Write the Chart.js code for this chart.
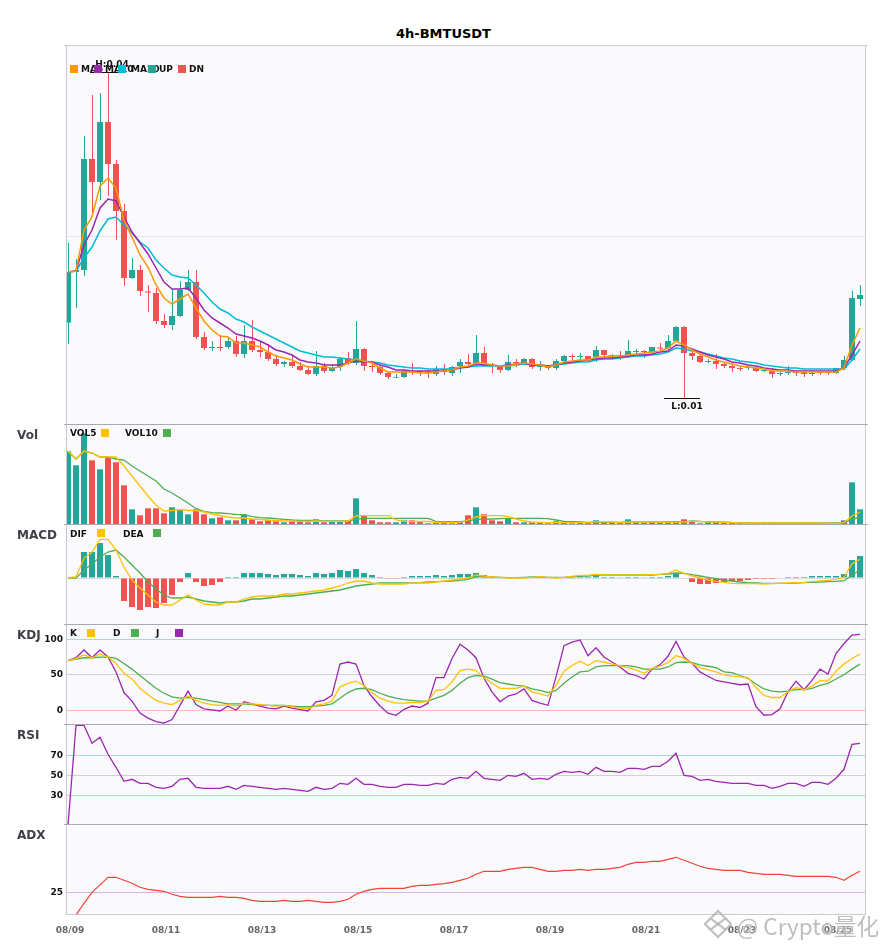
<!DOCTYPE html>
<html><head><meta charset="utf-8">
<style>
html,body{margin:0;padding:0;background:#fff;width:885px;height:950px;overflow:hidden}
canvas{position:absolute;left:0}
.t{position:absolute;font-family:'DejaVu Sans',sans-serif;font-weight:700;white-space:nowrap}
.sq{position:absolute;width:8px;height:8px}
</style>
<script src="https://cdn.jsdelivr.net/npm/chart.js@4"></script>
</head><body>
<canvas id="cMain" style="top:45px" width="885" height="379"></canvas>
<canvas id="cVol" style="top:424px" width="885" height="100"></canvas>
<canvas id="cMacd" style="top:524px" width="885" height="100"></canvas>
<canvas id="cKdj" style="top:624px" width="885" height="100"></canvas>
<canvas id="cRsi" style="top:724px" width="885" height="100"></canvas>
<canvas id="cAdx" style="top:824px" width="885" height="126"></canvas>
<div id="texts"></div>
<script>
// Prices are read as a log2 index: 0 = 0.01, 100 = 0.02, 200 = 0.04
const openIdx=[48.0,78.4,79.6,146.2,132.4,168.4,143.2,115.0,74.8,79.6,66.7,65.8,49.0,46.6,52.0,67.6,72.4,39.4,32.8,33.4,33.4,37.0,29.2,37.0,31.6,30.4,26.2,23.2,24.4,22.0,19.6,17.2,22.0,19.0,21.4,26.8,23.8,32.2,22.0,21.4,17.8,15.0,15.4,19.0,19.0,18.4,17.2,20.2,17.8,22.0,24.4,23.8,29.8,22.6,21.4,19.6,24.4,23.8,26.2,21.4,22.0,20.8,25.0,28.0,27.4,28.0,27.4,31.6,28.0,28.6,28.0,30.4,31.0,30.4,33.1,32.8,37.0,45.4,29.8,28.0,24.4,25.0,23.2,22.0,20.8,20.8,20.8,19.0,19.0,17.2,17.8,18.4,18.4,17.2,18.4,18.4,17.8,20.8,25.6,62.2];
const closeIdx=[78.4,79.6,146.2,132.4,168.4,143.2,115.0,74.8,79.6,67.0,66.1,49.0,46.6,52.0,67.6,72.4,39.4,32.8,33.4,32.8,37.0,29.2,37.0,31.6,30.4,26.2,23.2,24.4,22.0,19.6,17.2,22.0,19.0,20.8,26.2,23.8,32.2,22.0,21.4,17.8,15.4,15.4,19.0,18.4,18.4,17.8,20.2,18.4,21.4,24.4,23.2,29.8,23.8,22.0,19.6,24.4,23.8,26.2,21.4,22.6,20.8,25.0,28.0,27.4,28.0,26.2,31.6,28.6,28.6,28.0,31.0,31.0,30.4,33.4,32.5,37.0,45.4,29.8,28.0,24.4,25.0,23.2,22.0,20.8,20.2,21.4,19.0,19.6,17.2,17.8,18.4,17.8,17.2,17.8,17.8,17.8,20.8,25.6,62.8,64.6];
const highIdx=[95.8,86.2,160.0,184.6,185.8,198.4,145.6,119.2,86.8,82.6,70.6,68.8,53.2,68.2,73.0,79.6,79.6,42.4,37.0,40.6,38.8,40.0,46.6,49.6,37.0,35.2,28.6,25.0,28.0,24.4,22.0,31.0,23.8,22.6,27.4,30.4,49.0,32.8,24.4,22.6,18.4,17.2,20.2,23.8,19.6,19.6,22.0,23.2,22.0,26.2,29.2,40.6,33.4,23.8,22.6,28.6,26.2,26.8,26.8,25.0,22.6,26.2,28.6,29.2,29.8,28.0,34.0,31.6,29.2,31.0,37.6,32.2,31.6,33.4,35.8,40.6,46.0,46.0,30.4,28.6,26.2,29.2,24.4,23.8,22.0,22.6,21.4,20.8,20.8,19.0,22.0,19.6,19.6,19.6,19.6,19.6,20.8,28.0,67.0,70.6];
const lowIdx=[35.2,56.8,76.0,113.8,121.6,124.0,97.6,70.0,74.2,64.0,54.4,47.2,44.8,43.6,51.4,67.0,38.2,31.6,31.0,31.0,32.2,27.4,26.8,30.4,27.4,25.0,22.0,21.4,20.8,19.0,16.6,16.0,17.8,18.4,19.0,22.6,22.6,19.0,18.4,16.6,14.2,14.8,14.8,16.6,16.0,14.8,16.0,16.6,16.0,17.8,21.4,21.4,22.6,17.8,17.8,19.0,21.4,22.6,20.2,19.0,19.6,19.6,24.4,25.0,25.6,25.0,24.4,25.6,26.2,25.6,26.8,29.2,26.8,29.8,30.4,31.6,36.4,2.8,25.6,23.8,23.8,20.2,20.8,18.4,19.0,19.6,18.4,18.4,14.8,16.0,16.6,16.0,15.4,16.0,16.6,16.6,17.2,19.6,25.0,58.0];
const ma5Idx=[78.4,79.0,103.6,111.4,130.0,134.8,128.8,109.6,99.4,88.6,81.4,70.6,62.8,59.2,62.2,65.2,56.8,49.0,43.6,40.0,39.4,35.8,35.8,34.6,33.4,30.4,28.0,26.8,25.6,23.2,21.4,21.4,21.4,20.8,21.4,23.8,26.2,25.0,23.8,20.8,18.4,18.4,18.4,18.4,17.8,17.8,18.4,19.0,19.6,21.4,22.0,23.8,23.8,22.6,22.0,22.0,23.2,23.8,23.2,22.6,21.4,22.6,24.4,25.0,25.6,25.6,27.4,27.4,28.0,28.0,28.6,29.2,29.8,30.4,31.0,32.8,37.0,34.6,31.6,29.2,27.4,25.6,24.4,23.2,22.0,21.4,20.8,20.2,19.0,19.0,19.0,18.4,18.4,18.4,18.4,18.4,18.4,20.8,34.6,44.8];
const ma10Idx=[78.4,79.0,94.6,103.6,116.8,122.2,121.0,111.4,102.4,95.8,89.2,80.8,72.4,68.2,68.2,68.8,62.8,55.6,50.8,47.8,44.8,41.2,40.0,38.8,37.0,34.6,31.6,30.4,28.6,25.6,24.4,23.8,22.6,22.6,22.6,23.8,25.0,24.4,24.4,22.6,21.4,19.6,19.6,19.0,19.0,19.0,19.0,19.0,19.6,20.8,21.4,23.2,22.6,22.6,22.0,22.6,23.2,23.8,22.6,22.6,22.0,22.6,23.8,24.4,25.0,25.6,26.2,26.8,26.8,27.4,28.0,28.6,28.6,29.2,30.4,31.0,34.6,34.0,32.2,30.4,28.6,27.4,26.2,24.4,23.8,22.6,22.0,20.8,20.2,19.6,19.6,19.0,19.0,19.0,19.0,19.0,19.0,20.8,28.6,37.0];
const ma20Idx=[78.4,79.0,86.8,93.4,103.0,110.2,111.4,106.6,101.8,96.4,92.8,85.6,80.8,76.6,75.4,74.8,70.6,65.8,60.4,56.2,53.8,50.2,48.4,45.4,43.0,40.6,38.2,35.8,33.4,31.0,29.8,28.6,27.4,27.4,26.8,26.2,25.6,25.0,24.4,23.8,22.6,22.0,21.4,20.8,20.8,20.2,20.2,20.2,20.2,21.4,21.4,22.0,22.0,22.0,22.0,22.0,22.6,23.2,22.6,22.6,22.0,22.6,23.2,23.8,24.4,24.4,25.6,26.2,26.2,26.8,27.4,28.0,28.0,28.6,29.2,30.4,32.8,32.2,31.0,30.4,29.2,28.0,26.8,26.2,25.0,24.4,23.8,22.6,22.0,21.4,20.8,20.8,20.2,20.2,20.2,20.2,20.2,20.2,25.6,32.2];
const volume=[72.7,58.7,90.7,63.7,54.7,67,61.7,38.7,14.7,8.7,15.7,15.7,10.7,16.7,14,9.7,14.7,9.7,5.7,6.7,3.7,3.7,9.7,4.7,2.7,3.7,2.7,1.7,2.7,2.7,1.7,4.7,1.7,2.7,2.7,3.7,25.7,8,3.7,1.7,1.7,1.7,3.7,3.7,2,0.7,2,1.7,0.7,2.7,8.7,16.7,9.7,3.7,2.7,5.7,1.7,1.7,1.7,1.7,0.7,2.7,1,0.7,1,1,3.7,1.3,1,1,4.7,1.3,1,2,1,1.7,2.7,4.7,2,0.7,1.7,2.7,1,1,1,0.7,0.7,1,1,0.7,0.7,0.7,1,0.7,0.7,0.7,0.3,3.7,41.7,14.7];
const vol5=[72.7,65,73,71,67,67,67,58,48,38,28,19,13,13.5,14.5,13.5,13.5,12,10,8.5,7,6,6,5,4.5,4,3.5,3,3,2.7,2.7,3,2.7,2.7,2.7,3,8,8.3,8.3,8.3,8.3,4,2.7,2.5,2.5,2.5,1.5,1.5,1.5,1.7,4,7,8.3,8.3,8.3,7.5,5,3,2,1.7,1.3,1.3,1.3,1.3,1.3,1.3,2.2,2.2,2,1.3,2,2,2,2.2,2,1.7,1.7,2,2.7,2.7,2.2,2,1.7,1.3,1,1,1,1,1,1,1,1,1,1,0.9,0.9,0.7,1.3,8,12];
const vol10=[72.7,65,73,71,67,67,65,64,58,53,48,43,35,31,26,21,15.3,12.7,11.3,11,10.3,9.7,9.3,7.3,6.3,6,5.3,4.7,4,3.5,3.5,3.5,3,3,3,3,4.7,5.7,5.7,5.7,5.7,5.7,5.7,5.7,5.7,5.7,2.7,2.3,2.3,2.3,3,4.7,4.7,5,5.3,5.7,5.7,5.7,5.7,5.7,5.3,4,2.7,2.3,2,1.7,1.7,1.7,1.7,1.7,2,2,2,2,2,2,2,2,3,2.5,2.3,2,1.8,1.5,1.4,1.3,1.2,1.1,1,1,1,1,1,1,1,1,1,1,5,6.3];
const macdHist=[0,0,26,26,35,23,2,-23,-29,-32,-29,-30,-25,-17,-4,5,-4,-8,-7,-4,1,1,5,5,5,4,3,4,4,3,2,5,4,5,8,7,9,5,3,1,-0.7,-0.7,1,2,2,2,3,2,3,4,4,5,3,1,0.5,0.5,0.3,0.3,-0.5,-0.5,-0.5,-0.5,0.5,1,1,1,3,1,1,0.3,1,1,0.3,1,1,2,5,0,-4,-6,-6,-5,-4,-3,-3,-2,-1,-1,-1,0,1,1,1,2,2,2,2,4,18,22];
const dif=[0,1,19.7,26,38.7,38.7,28,11,-2,-10,-17,-24,-27,-27,-22,-17,-22,-26,-27,-27,-24,-24,-21,-19,-18,-18,-18,-16,-16,-15,-14,-13,-12,-10,-8,-5,-3,-3,-5,-6,-6,-6,-6,-5,-5,-5,-4,-3,-2,-1,0,3,2,1,0.7,0,0,0,0.7,1.3,0.7,0,0.7,1.7,2.7,2.7,3.7,3,3,3,3,3,3,3.3,3.7,4.7,8,4.7,2,0,-2,-3.3,-4.3,-5.3,-5.7,-5.7,-5.7,-6,-5.7,-5.3,-5,-4.7,-4.3,-3.7,-3,-2.3,-1.3,0.7,14,18.7];
const dea=[0,0,8,14,21,26,28,21,13,5,-4,-11,-17,-20,-20,-19,-21,-23,-24,-25,-24,-24,-23,-21,-21,-20,-19,-18,-18,-17,-16,-15,-14,-13,-12,-10,-8,-7,-6,-5,-5,-5,-5,-5,-4.7,-4,-3.7,-3.3,-3,-2.3,-1.3,1.3,1.3,1,0.7,0.3,0.3,0.7,1,1,0.7,0.7,0.7,1.3,1.7,2,3,3,3,3,3,3,3,3,3.7,4,5,4.7,3.3,2,0.7,-0.7,-2,-3,-4,-4.7,-5,-5.3,-5.3,-5.3,-5.3,-5,-4.7,-4.3,-4,-3.7,-3.3,-2.7,2.7,8];
const kLine=[70,73,78,74,79,75,66,52,44,31,22,14,10,8,14,20,14,10,8,7,8,6,10,9,8,7,6,7,5,3,2,7,9,13,33,38,41,35,25,17,13,10,10,11,11,13,28,29,40,56,58,56,46,38,31,31,31,34,26,23,20,35,55,63,69,63,70,68,65,63,60,57,52,59,62,67,77,73,66,60,57,54,50,48,47,46,32,21,18,18,26,32,29,34,42,41,55,65,73,79];
const dLine=[70,72,74,74,75,75,73,66,58,49,40,31,24,19,17,18,17,15,13,11,9,9,9,8,7.5,7,7,7,6,5,5,6,7,9,17,25,30,31,29,24,20,17,15,14,13,13,17,21,28,38,46,49,48,44,39,37,35,34,30,28,25,28,38,47,54,55,61,63,63,63,63,61,58,58,58,61,67,68,67,64,62,60,54,53,49,45,37,30,27,26,27,29,29,31,35,38,44,50,58,65];
const jLine=[70,74,85,74,85,75,54,25,13,-4,-11,-16,-18,-13,7,27,8,2,0.5,-1,6,0,12,9,6,3,2,6,3,1,-1,12,14,21,65,68,65,35,19,6,-4,-7,1.4,6,4,10,46,46,73,93,85,74,45,26,12,20,23,30,14,10,7,47,91,96,99,77,88,75,68,61,52,49,44,58,64,76,97,75,66,54,48,42,40,38,36,37,5,-7,-6,2,26,41,29,42,58,51,80,94,106,107];
const rsi=[0,100,100,82,88,71,58,44,46,42,42,38,37,39,46,47,38,37,37,37,39,36,40,39,38,37,36,37,36,35,34,38,36,37,42,41,47,41,41,39,38,38,41,41,40,40,42,41,46,48,47,54,47,46,45,50,49,52,46,47,46,51,54,53,54,51,58,54,54,53,57,57,56,59,59,64,72,50,49,45,46,44,43,42,42,42,40,40,37,39,42,42,39,43,43,41,47,56,81,82];
const adx=[13.7,13.7,19.5,25,28.7,32.5,32.5,31,29.5,27.5,26.5,26,25.5,24,23,22.5,22.5,22.5,22.5,23,22.5,22.5,22,21,20.5,20.5,20.5,21,20.5,20.5,21,20.5,20,20,20.5,21.5,24,25.5,26.5,27,27,27,27,28,28.5,28.5,29,29.3,30,31,32,34,35.5,35.5,35.5,36.5,37,37.5,37.5,36.5,35.5,35.5,36,36,36.5,36,36.5,36.5,37,37.5,39,40,40,40.5,40.5,41.5,42.5,41,39.5,38,37,36.5,36,36,36,35,34.5,34,34,34,33.5,33,33,33,33,33,32.5,31,33.5,35.5];
const dateLabels=['08/09','08/11','08/13','08/15','08/17','08/19','08/21','08/23','08/25'];
const dateTickIndex=[0,12,24,36,48,60,72,84,96];
const kdjTicks=[0,50,100], rsiTicks=[30,50,70], adxTicks=[25];

const UP='#26A69A',DN='#EF5350',ORANGE='#FF9800',PURPLE='#9C27B0',CYAN='#00BCD4',YEL='#FFC107',GRN='#4CAF50',RED='#F44336';
const price=v=>0.01*Math.pow(2,v/100);
const xy=arr=>arr.map((y,x)=>({x,y}));
const isUp=openIdx.map((o,i)=>closeIdx[i]>=o);
const candleColors=isUp.map(u=>u?UP:DN);

const framePlugin={id:'frame',
  beforeDraw(c){const a=c.chartArea,g=c.ctx;g.save();g.fillStyle='#FAFAFD';g.fillRect(a.left,a.top,a.width,a.height);g.restore();},
  afterDraw(c,_,o){const a=c.chartArea,g=c.ctx;g.save();g.lineWidth=1;
    g.strokeStyle='#C9C9D3';g.beginPath();
    g.moveTo(a.left+.5,a.top);g.lineTo(a.left+.5,a.bottom);g.moveTo(a.right-.5,a.top);g.lineTo(a.right-.5,a.bottom);
    if(o.bottom){g.moveTo(a.left,a.bottom-.5);g.lineTo(a.right,a.bottom-.5);}g.stroke();
    g.strokeStyle=o.top||'#A9A9B1';g.beginPath();g.moveTo(a.left,a.top+.5);g.lineTo(a.right,a.top+.5);
    g.moveTo(a.left-2,a.top+.5);g.lineTo(a.left,a.top+.5);g.moveTo(a.right,a.top+.5);g.lineTo(a.right+2,a.top+.5);g.stroke();
    g.restore();}
};
const extremePlugin={id:'extreme',afterDatasetsDraw(c){
  const y=c.scales.y,x=c.scales.x,g=c.ctx;
  let hi=0,lo=0;highIdx.forEach((v,i)=>{if(v>highIdx[hi])hi=i;});lowIdx.forEach((v,i)=>{if(v<lowIdx[lo])lo=i;});
  g.save();g.strokeStyle='#111';g.fillStyle='#111';g.lineWidth=1;g.font='bold 9px "DejaVu Sans"';g.textAlign='center';g.textBaseline='middle';
  const hx=x.getPixelForValue(hi),hy=y.getPixelForValue(price(highIdx[hi])),lx=x.getPixelForValue(lo),ly=y.getPixelForValue(price(lowIdx[lo]));
  g.beginPath();g.moveTo(hx-18,Math.round(hy)+.5);g.lineTo(hx+18,Math.round(hy)+.5);g.moveTo(lx-20,Math.round(ly)+.5);g.lineTo(lx+16,Math.round(ly)+.5);g.stroke();
  g.fillText('H:'+price(highIdx[hi]).toFixed(2),hx+4,hy-7);
  g.fillText('L:'+price(lowIdx[lo]).toFixed(2),lx+3,ly+9);
  g.restore();}};

function line(data,color,order,width){return {type:'line',data:xy(data),borderColor:color,borderWidth:width||1.3,pointRadius:0,tension:0,order:order,fill:false};}
function bars(data,colors,order,pct,axis){const d={type:'bar',data:data,backgroundColor:colors,borderWidth:0,order:order,grouped:false,barPercentage:pct,categoryPercentage:1};if(axis)d.xAxisID=axis;return d;}

function panel(id,datasets,o){
  const scales={
      x:{type:'linear',min:-0.25,max:99.75,offset:false,display:!!o.xLabels,grid:{display:false},border:{display:false},
        afterFit(s){s.height=o.xLabels?35:0;s.paddingLeft=0;s.paddingRight=0;},
        afterBuildTicks(s){s.ticks=dateTickIndex.map(value=>({value}));},
        ticks:{autoSkip:false,maxRotation:0,minRotation:0,includeBounds:false,padding:2,labelOffset:2,color:'#666',font:{family:'DejaVu Sans',size:9,weight:'bold'},
          callback(v){return dateLabels[dateTickIndex.indexOf(v)];}}},
      y:{type:o.log?'logarithmic':'linear',min:o.min,max:o.max,border:{display:false},
        afterFit(s){s.width=66;s.paddingTop=0;s.paddingBottom=0;},
        afterBuildTicks(s){s.ticks=(o.ticks||[]).map(value=>({value}));},
        grid:{drawTicks:false,lineWidth:1,color:c=>(o.gridColors||{})[c.tick&&c.tick.value]||'rgba(0,0,0,0)'},
        ticks:{display:!!o.showY,autoSkip:false,padding:3,color:'#111',font:{family:'DejaVu Sans',size:9,weight:'bold'},callback:v=>String(v)}}
  };
  if(o.wickAxis) scales.xWick={type:'linear',axis:'x',min:-0.3125,max:99.6875,offset:false,display:false};
  return new Chart(document.getElementById(id),{type:'bar',data:{datasets},plugins:[framePlugin].concat(o.plugins||[]),options:{
    responsive:false,animation:false,devicePixelRatio:1,
    layout:{padding:{left:0,right:19,top:0,bottom:0}},
    plugins:{legend:{display:false},tooltip:{enabled:false},title:{display:false},frame:{top:o.top,bottom:o.bottom}},
    scales}});
}

panel('cMain',[
  line(ma5Idx.map(price),ORANGE,1,1.5),line(ma10Idx.map(price),PURPLE,1,1.5),line(ma20Idx.map(price),CYAN,1,1.5),
  bars(openIdx.map((o,x)=>({x,y:[price(o),price(closeIdx[x])]})),candleColors,3,0.75),
  bars(lowIdx.map((l,x)=>({x,y:[price(l),price(highIdx[x])]})),candleColors,4,0.125,'xWick')
],{log:true,wickAxis:true,min:price(-12.8),max:price(214.6),ticks:[0.02],gridColors:{0.02:'#E2E2E8'},top:'#CCCCD6',plugins:[extremePlugin]});

panel('cVol',[line(vol5,YEL,1,1.3),line(vol10,GRN,1,1.3),bars(xy(volume),candleColors,3,0.75)],{min:0,max:100});

panel('cMacd',[line(dif,YEL,1,1.3),line(dea,GRN,1,1.3),bars(xy(macdHist),macdHist.map(v=>v>=0?UP:DN),3,0.75)],
  {min:-46,max:54,ticks:[0],gridColors:{0:'#DCDCDC'}});

panel('cKdj',[line(kLine,YEL,1,1.3),line(dLine,GRN,1,1.3),line(jLine,PURPLE,1,1.3)],
  {min:-19.3,max:121.5,ticks:kdjTicks,showY:true,gridColors:{0:'#FFB6B6',50:'#CFCFD4',100:'#A6DBD7'}});

panel('cRsi',[line(rsi,PURPLE,1,1.3)],
  {min:1.3,max:101.3,ticks:rsiTicks,showY:true,gridColors:{30:'#FFB6B6',50:'#CFCFD4',70:'#A0DDD8'}});

panel('cAdx',[line(adx,RED,1,1.2)],
  {min:13.65,max:59.15,ticks:adxTicks,showY:true,xLabels:true,bottom:true,gridColors:{25:'#D8B4E2'}});

// Real-text overlays: title, panel names, legends, watermark
const T=document.getElementById('texts');
function txt(s,x,yc,size,color,extra){const d=document.createElement('div');d.className='t';d.textContent=s;
  d.style.cssText=`left:${x}px;top:${yc-10}px;line-height:20px;font-size:${size}px;color:${color};`+(extra||'');T.appendChild(d);return d;}
function sq(x,yc,color){const d=document.createElement('div');d.className='sq';d.style.cssText=`left:${x}px;top:${yc-4}px;background:${color}`;T.appendChild(d);}
txt('4h-BMTUSDT',0,34,13,'#000','width:885px;left:0;text-align:center;text-indent:2px');
[['Vol',435],['MACD',535],['KDJ',635],['RSI',735],['ADX',835]].forEach(([s,y])=>txt(s,17,y,12,'#3F3F48'));
const legendNames=['MA5','MA10','MA20','UP','DN'];
[81,105,131,159,189].forEach((x,i)=>txt(legendNames[i],x,69,9,'#111'));
[[70,ORANGE],[94,PURPLE],[118,CYAN],[148,UP],[178,DN]].forEach(([x,c])=>sq(x,69,c));
txt('VOL5',70,433,9,'#111');sq(101,433,YEL);txt('VOL10',125,433,9,'#111');sq(163,433,GRN);
txt('DIF',70,534,9,'#111');sq(97,533,YEL);txt('DEA',123,534,9,'#111');sq(153,533,GRN);
txt('K',70,633,9,'#111');sq(87,633,YEL);txt('D',113,633,9,'#111');sq(131,633,GRN);txt('J',156,633,9,'#111');sq(175,633,PURPLE);
txt('@ Crypto量化',737,925,22.5,'rgba(150,150,150,.62)',"font-weight:400;font-family:'Noto Sans CJK SC','Noto Sans',sans-serif;text-shadow:0 0 2px rgba(255,255,255,.9)");
const logo=document.createElementNS('http://www.w3.org/2000/svg','svg');
logo.setAttribute('width','28');logo.setAttribute('height','30');logo.setAttribute('viewBox','0 0 30 32');
logo.style.cssText='position:absolute;left:704px;top:909px';
logo.innerHTML='<g fill="none" stroke="rgba(175,175,175,.75)" stroke-width="2.4"><path d="M15 2 L23 10 L15 16 L7 10 Z"/><path d="M7 10 L1 16 L7 22"/><path d="M23 10 L29 16 L23 22"/><path d="M7 22 L15 30 L23 22 L15 16 Z"/></g>';
T.appendChild(logo);
</script>
</body></html>
